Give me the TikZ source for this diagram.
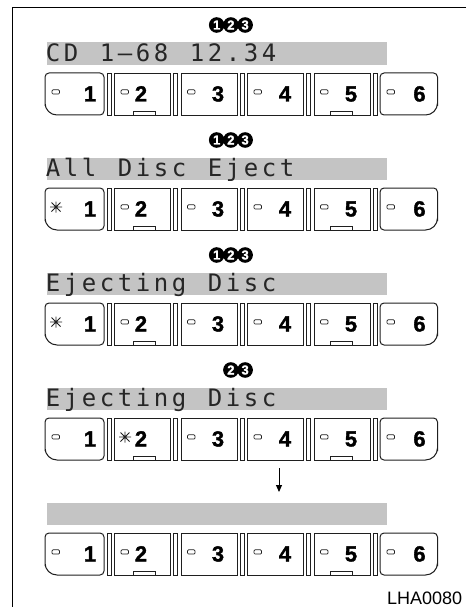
\documentclass[tikz,border=0pt]{standalone}
\usepackage{fontspec}
\setmainfont{Liberation Sans}
\newfontfamily\lcdfont{DejaVu Sans Mono}
\newfontfamily\digitfont[FakeBold=1.5]{Liberation Sans Bold}
\definecolor{mBar}{gray}{0.77}
\definecolor{mInk}{gray}{0.12}
\usetikzlibrary{arrows.meta}

\newcommand\lcd[1]{\lcdloop#1\relax}
\def\lcdloop#1{\ifx#1\relax\else\makebox[18pt]{#1}\expandafter\lcdloop\fi}

\begin{document}
\begin{tikzpicture}[x=1pt, y=-1pt,
  btn/.style={draw=mInk, line width=1pt},
  sepbar/.style={draw=mInk, line width=0.8pt},
  lamp/.style={draw=mInk, line width=0.7pt, rounded corners=1pt},
  digit/.style={inner sep=0pt, anchor=base, font=\digitfont\fontsize{22}{22}\selectfont},
  circ/.style={inner sep=0pt, text=white, font=\digitfont\fontsize{13}{13}\selectfont},
  lcdtext/.style={inner sep=0pt, anchor=base west, text=black!85,
                  font=\lcdfont\fontsize{24}{24}\selectfont}]
\useasboundingbox (0,0) rectangle (466,607);
\draw[line width=1pt] (466,7.5) -- (12,7.5) -- (12,607);

\foreach \dy/\st [count=\r] in {0/0, 115/1, 230/1, 345/2, 460/0} {
  \begin{scope}[yshift=-\dy pt]
    \fill[mBar] (47,42.5) rectangle (387,65);
    \draw[btn] (45,94) [rounded corners=4pt] -- (45,73) -- (104,73) -- (104,115)
      [rounded corners=3pt] -- (75,115) [rounded corners=12pt] -- (45,115) -- cycle;
    \draw[btn] (437.5,94) [rounded corners=4pt] -- (437.5,73) -- (380,73) -- (380,115)
      [rounded corners=3pt] -- (410,115) [rounded corners=12pt] -- (437.5,115) -- cycle;
    \foreach \l [count=\k from 2] in {114,180.5,247,313.5}
      \node[btn, anchor=north west, minimum width=56pt, minimum height=42pt,
            inner sep=0pt] (b\r-\k) at (\l,73) {};
    \foreach \l in {114,180.5,247,313.5,380}
      \draw[sepbar] ({\l-7},73) rectangle ({\l-3},115);
    \draw[lamp, rounded corners=0pt] (133,111.5) rectangle (155,115);
    \draw[lamp, rounded corners=0pt] (330,111.5) rectangle (352,115);
    \foreach \k/\l/\d in {1/45/90, 2/114/141, 3/180.5/218, 4/247/285, 5/313.5/351, 6/380/419.5} {
      \node[digit] (d\r-\k) at (\d,101.5) {\k};
      \ifnum\k=\st
        \draw[mInk, line width=0.8pt]
          ({\l+5},92) -- ({\l+17},92) ({\l+11},86.5) -- ({\l+11},97.5)
          ({\l+6.5},87.5) -- ({\l+15.5},96.5) ({\l+6.5},96.5) -- ({\l+15.5},87.5);
      \else
        \draw[lamp] ({\l+7},89.8) rectangle ({\l+14.5},94);
      \fi
    }
  \end{scope}
}

% numbered step marks
\foreach \n/\x/\y in {1/1/25, 1/2/25, 1/3/25, 2/1/140, 2/2/140, 2/3/140,
                      3/1/255, 3/2/255, 3/3/255, 4/2/370, 4/3/370} {
  \fill (202.5+14.2*\x,\y) circle (7.8);
  \node[circ] (c\n-\x) at (202.5+14.2*\x,\y) {\x};
}

\node[lcdtext] (t1) at (44,61.5) {\lcd{CD~1–68~12.34}};
\node[lcdtext] (t2) at (44,176.5) {\lcd{All~Disc~Eject}};
\node[lcdtext] (t3) at (44,291.5) {\lcd{Ejecting~Disc}};
\node[lcdtext] (t4) at (44,406.5) {\lcd{Ejecting~Disc}};

\coordinate (arrTop) at (279,468);
\coordinate (arrBot) at (279,492);
\draw[line width=1pt, -{Triangle[length=7pt, width=6pt]}] (arrTop) -- (arrBot);

\node[inner sep=0pt, anchor=base west, font=\fontsize{18}{18}\selectfont]
  (code) at (387,604) {LHA0080};
\end{tikzpicture}
\end{document}
